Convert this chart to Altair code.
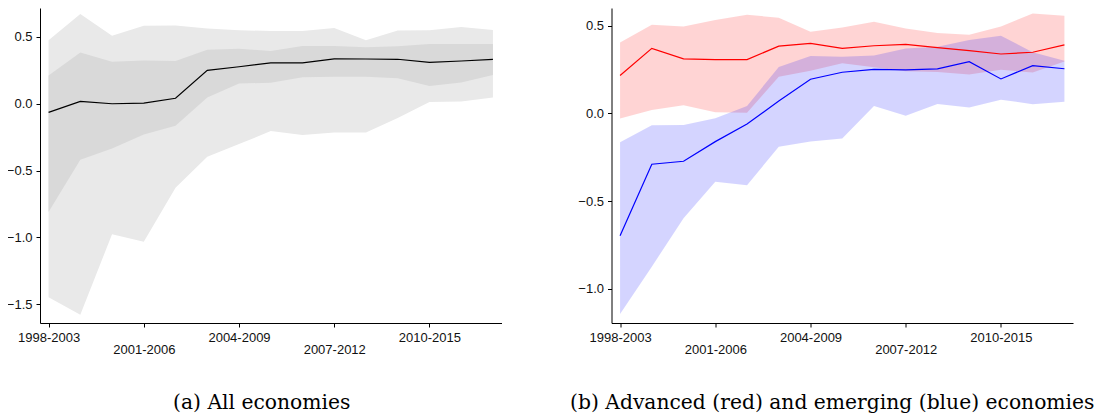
import altair as alt
import pandas as pd

windows = ["1998-2003", "1999-2004", "2000-2005", "2001-2006", "2002-2007",
           "2003-2008", "2004-2009", "2005-2010", "2006-2011", "2007-2012",
           "2008-2013", "2009-2014", "2010-2015", "2011-2016", "2012-2017"]
tick_idx = [0, 3, 6, 9, 12]

# Panel (a): all economies
all_mid = [-0.065, 0.018, 0.0, 0.005, 0.041, 0.25, 0.277, 0.306, 0.306, 0.336, 0.335, 0.333, 0.31, 0.32, 0.333]
all_in_hi = [0.211, 0.383, 0.315, 0.323, 0.32, 0.405, 0.411, 0.395, 0.433, 0.433, 0.423, 0.43, 0.448, 0.448, 0.448]
all_in_lo = [-0.81, -0.42, -0.335, -0.23, -0.165, 0.047, 0.152, 0.157, 0.199, 0.202, 0.202, 0.191, 0.133, 0.16, 0.216]
all_out_hi = [0.476, 0.672, 0.51, 0.585, 0.586, 0.564, 0.55, 0.545, 0.545, 0.568, 0.476, 0.548, 0.551, 0.575, 0.552]
all_out_lo = [-1.45, -1.58, -0.977, -1.034, -0.63, -0.397, -0.302, -0.205, -0.235, -0.215, -0.215, -0.107, 0.013, 0.016, 0.047]

# Panel (b): advanced (red) and emerging (blue)
adv_mid = [0.216, 0.37, 0.31, 0.306, 0.306, 0.383, 0.399, 0.37, 0.385, 0.393, 0.374, 0.357, 0.338, 0.348, 0.39]
adv_hi = [0.403, 0.505, 0.494, 0.532, 0.562, 0.544, 0.465, 0.489, 0.521, 0.483, 0.457, 0.448, 0.494, 0.569, 0.556]
adv_lo = [-0.03, 0.019, 0.046, 0.006, 0.004, 0.209, 0.243, 0.285, 0.262, 0.24, 0.236, 0.221, 0.248, 0.232, 0.295]
emg_mid = [-0.697, -0.29, -0.273, -0.161, -0.061, 0.07, 0.194, 0.234, 0.25, 0.248, 0.253, 0.294, 0.196, 0.272, 0.254]
emg_hi = [-0.165, -0.068, -0.066, -0.028, 0.042, 0.264, 0.327, 0.323, 0.33, 0.37, 0.38, 0.418, 0.442, 0.348, 0.3]
emg_lo = [-1.143, -0.873, -0.598, -0.389, -0.41, -0.19, -0.161, -0.143, 0.042, -0.013, 0.053, 0.034, 0.078, 0.052, 0.066]

t = list(range(len(windows)))
df_a = pd.DataFrame({"t": t, "mid": all_mid, "in_hi": all_in_hi, "in_lo": all_in_lo,
                     "out_hi": all_out_hi, "out_lo": all_out_lo})
df_b = pd.DataFrame({"t": t, "adv_mid": adv_mid, "adv_hi": adv_hi, "adv_lo": adv_lo,
                     "emg_mid": emg_mid, "emg_hi": emg_hi, "emg_lo": emg_lo})

label_arr = "[" + ",".join("'%s'" % w for w in windows) + "]"
W, H = 461.5, 315

def xenc():
    return alt.X("t:Q",
                 scale=alt.Scale(domain=[-0.27, 14.27], nice=False, zero=False),
                 axis=alt.Axis(values=tick_idx, labelExpr=label_arr + "[datum.value]",
                               title=None,
                               labelPadding={"condition": {"test": "datum.value == 3 || datum.value == 9",
                                                           "value": 16}, "value": 4}))

def cap(text, dx):
    return alt.TitleParams(text, orient="bottom", anchor="middle", frame="group",
                           font="DejaVu Serif", fontSize=20.3, fontWeight="normal",
                           color="black", baseline="alphabetic", offset=53, dx=dx)

ya = alt.Scale(domain=[-1.642, 0.717], nice=False, zero=False)
yax_a = alt.Axis(values=[-1.5, -1.0, -0.5, 0.0, 0.5], format=".1f", title=None)
yb = alt.Scale(domain=[-1.194, 0.600], nice=False, zero=False)
yax_b = alt.Axis(values=[-1.0, -0.5, 0.0, 0.5], format=".1f", title=None)

a_base = alt.Chart(df_a)
a_out = a_base.mark_area(color="#e9e9e9", opacity=1).encode(
    x=xenc(), y=alt.Y("out_lo:Q", scale=ya, axis=yax_a), y2="out_hi:Q")
a_in = a_base.mark_area(color="#d9d9d9", opacity=1).encode(
    x=xenc(), y=alt.Y("in_lo:Q", scale=ya, axis=yax_a), y2="in_hi:Q")
a_line = a_base.mark_line(color="black", strokeWidth=1.2).encode(
    x=xenc(), y=alt.Y("mid:Q", scale=ya, axis=yax_a))
chart_a = alt.layer(a_out, a_in, a_line).properties(
    width=W, height=H, title=cap("(a)  All economies", -9))

b_base = alt.Chart(df_b)
b_adv_band = b_base.mark_area(color="#ff0000", opacity=0.17).encode(
    x=xenc(), y=alt.Y("adv_lo:Q", scale=yb, axis=yax_b), y2="adv_hi:Q")
b_emg_band = b_base.mark_area(color="#0000ff", opacity=0.17).encode(
    x=xenc(), y=alt.Y("emg_lo:Q", scale=yb, axis=yax_b), y2="emg_hi:Q")
b_adv_line = b_base.mark_line(color="#ff0000", strokeWidth=1.2).encode(
    x=xenc(), y=alt.Y("adv_mid:Q", scale=yb, axis=yax_b))
b_emg_line = b_base.mark_line(color="#0000ff", strokeWidth=1.2).encode(
    x=xenc(), y=alt.Y("emg_mid:Q", scale=yb, axis=yax_b))
chart_b = alt.layer(b_adv_band, b_emg_band, b_adv_line, b_emg_line).properties(
    width=W, height=H, title=cap("(b)  Advanced (red) and emerging (blue) economies", -10))

chart = alt.hconcat(chart_a, chart_b, spacing=109.5, bounds="flush").properties(
    padding={"left": -2, "top": 0, "right": 0, "bottom": 0}
).configure_view(stroke=None).configure_axis(
    grid=False, domainColor="black", domainWidth=1, tickColor="black", tickSize=4,
    tickWidth=1, labelFont="Liberation Sans", labelFontSize=13, labelColor="#111",
    labelBaseline="top"
).configure_axisY(labelPadding=4, labelBaseline="middle")

chart.save("out.html", embed_options={"renderer": "svg", "actions": False})
